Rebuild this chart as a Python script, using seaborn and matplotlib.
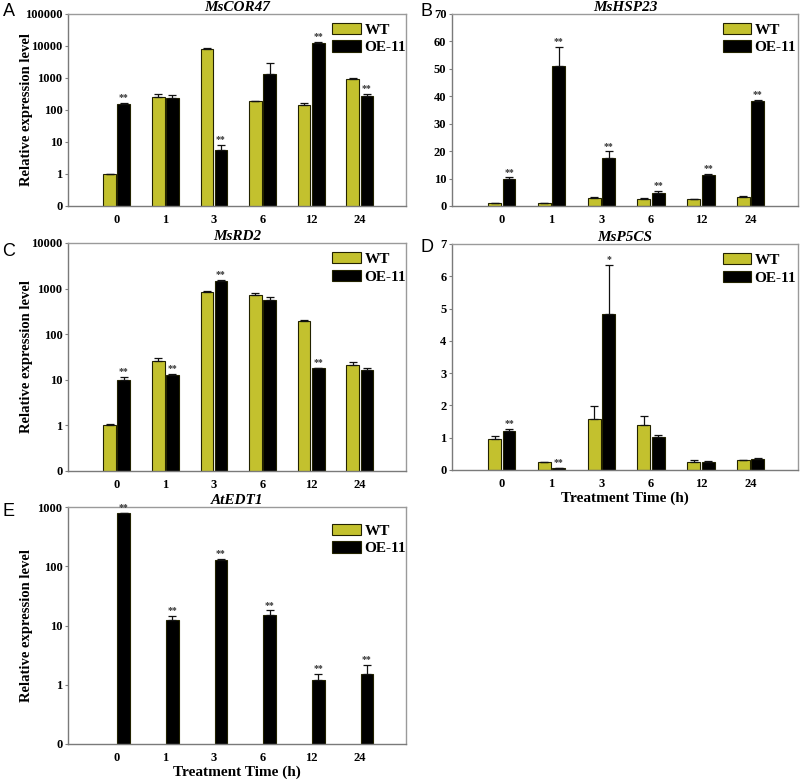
"""Relative expression of stress genes in WT and OE-11 lines over a treatment time course."""

import matplotlib.pyplot as plt
import numpy as np
import pandas as pd
import seaborn as sns

TIMES = ["0", "1", "3", "6", "12", "24"]
LINES = ["WT", "OE-11"]
WT_COLOR = "#C3C12E"
OE_COLOR = "#000000"

# MsCOR47 (log scale)
COR47_WT = [1.0, 250, 8100, 186, 140, 930]
COR47_WT_SD = [0.03, 70, 300, 4, 25, 60]
COR47_OE = [158, 237, 5.6, 1365, 12400, 280]
COR47_OE_SD = [7, 53, 2.4, 1535, 1100, 35]
COR47_SIG = ["**", "", "**", "", "**", "**"]

# MsHSP23 (linear)
HSP23_WT = [1.0, 1.0, 2.8, 2.7, 2.4, 3.3]
HSP23_WT_SD = [0.1, 0.2, 0.5, 0.2, 0.2, 0.2]
HSP23_OE = [9.8, 51.0, 17.5, 4.85, 11.3, 38.2]
HSP23_OE_SD = [0.6, 7.0, 2.4, 0.65, 0.3, 0.6]
HSP23_SIG = ["**", "**", "**", "**", "**", "**"]

# MsRD2 (log scale)
RD2_WT = [1.0, 26, 850, 710, 192, 21.3]
RD2_WT_SD = [0.07, 4, 20, 90, 13, 3.2]
RD2_OE = [10, 12.7, 1490, 570, 17.9, 16.4]
RD2_OE_SD = [1.8, 0.6, 60, 70, 0.5, 1.5]
RD2_SIG = ["**", "**", "**", "", "**", ""]

# MsP5CS (linear)
P5CS_WT = [0.95, 0.24, 1.58, 1.40, 0.24, 0.31]
P5CS_WT_SD = [0.11, 0.02, 0.41, 0.28, 0.07, 0.01]
P5CS_OE = [1.21, 0.06, 4.82, 1.01, 0.26, 0.33]
P5CS_OE_SD = [0.07, 0.01, 1.53, 0.08, 0.01, 0.05]
P5CS_SIG = ["**", "**", "*", "", "", ""]

# AtEDT1 (log scale), not expressed in WT
EDT1_WT = [np.nan] * 6
EDT1_WT_SD = [np.nan] * 6
EDT1_OE = [789, 12.3, 129, 15.0, 1.20, 1.49]
EDT1_OE_SD = [15, 2.3, 4, 3.1, 0.33, 0.69]
EDT1_SIG = ["**", "**", "**", "**", "**", "**"]

plt.rcParams["font.family"] = ["Liberation Serif", "DejaVu Serif"]
plt.rcParams["font.weight"] = "bold"

W, H = 800, 784


def rect(x0, y0, x1, y1):
    return [x0 / W, 1 - y1 / H, (x1 - x0) / W, (y1 - y0) / H]


def draw_panel(ax, title, wt, wt_sd, oe, oe_sd, sig, log, ymax, letter, letter_xy,
               legend_anchor, ylabel=False, xlabel=False):
    df = pd.DataFrame({
        "time": TIMES * 2,
        "line": [LINES[0]] * 6 + [LINES[1]] * 6,
        "value": list(wt) + list(oe),
    })
    sds = {LINES[0]: wt_sd, LINES[1]: oe_sd}
    vals = {LINES[0]: wt, LINES[1]: oe}

    sns.barplot(data=df, x="time", y="value", hue="line", hue_order=LINES, order=TIMES,
                palette=[WT_COLOR, OE_COLOR], saturation=1, errorbar=None, width=0.58, gap=0.1,
                edgecolor="#222200", linewidth=0.8, ax=ax)

    for container, line in zip(ax.containers, LINES):
        for patch in container.patches:
            cx = patch.get_x() + patch.get_width() / 2
            i = int(round(cx))
            v, sd = vals[line][i], sds[line][i]
            if np.isnan(v):
                continue
            ax.errorbar(cx, v, yerr=[[0], [sd]], fmt="none", ecolor="#111111",
                        elinewidth=0.9, capsize=3, capthick=0.9)
            if line == "OE-11" and sig[i]:
                ax.annotate(sig[i], (cx, v + sd), xytext=(0, 0.5), textcoords="offset points",
                            ha="center", va="bottom", fontsize=7, color="#333333")

    if log:
        ax.set_yscale("log")
        ax.set_ylim(0.1, ymax)
        ticks = [10.0 ** k for k in range(-1, int(np.log10(ymax)) + 1)]
        ax.set_yticks(ticks)
        ax.set_yticklabels(["0"] + [f"{t:.0f}" for t in ticks[1:]])
        ax.minorticks_off()
    else:
        ax.set_ylim(0, ymax)
        step = 10 if ymax > 10 else 1
        ax.set_yticks(np.arange(0, ymax + step / 2, step))
        ax.set_yticklabels([f"{t:.0f}" for t in np.arange(0, ymax + step / 2, step)])

    ax.set_xlim(-1, 5.95)
    ax.set_title(title, fontsize=11, fontstyle="italic", fontweight="bold", pad=0.5)
    ax.tick_params(axis="x", length=0, pad=6, labelsize=9)
    ax.tick_params(axis="y", length=2, pad=2, labelsize=9, color="#808080")
    for lab in ax.get_xticklabels() + ax.get_yticklabels():
        lab.set_fontweight("bold")
    for side, spine in ax.spines.items():
        spine.set_color("#7a7a7a" if side in ("left", "bottom") else "#9a9a9a")
        spine.set_linewidth(1.0)

    ax.set_ylabel("Relative expression level" if ylabel else "", fontsize=10.5, fontweight="bold")
    ax.yaxis.set_label_coords(-0.105, 0.5)
    ax.set_xlabel("Treatment Time (h)" if xlabel else "", fontsize=11, fontweight="bold", labelpad=1)

    handles, labels = ax.get_legend_handles_labels()
    ax.legend(handles, labels, loc="upper right", bbox_to_anchor=legend_anchor, frameon=False,
              prop={"family": "Liberation Serif", "weight": "bold", "size": 11},
              handlelength=1.85, handleheight=0.75, handletextpad=0.25, labelspacing=0.25,
              borderpad=0, borderaxespad=0)

    ax.figure.text(letter_xy[0] / W, 1 - letter_xy[1] / H, letter, fontsize=13,
                   family="Liberation Sans", fontweight="normal", ha="center", va="center")


fig = plt.figure(figsize=(8, 7.84), dpi=100)
ax_a = fig.add_axes(rect(68, 14, 406, 206))
ax_b = fig.add_axes(rect(452, 14, 798, 206))
ax_c = fig.add_axes(rect(68, 243, 406, 471))
ax_d = fig.add_axes(rect(452, 244, 798, 470))
ax_e = fig.add_axes(rect(68, 507, 406, 744))

draw_panel(ax_a, "MsCOR47", COR47_WT, COR47_WT_SD, COR47_OE, COR47_OE_SD, COR47_SIG,
           True, 1e5, "A", (9, 12), (1.0, 0.955), ylabel=True)
draw_panel(ax_b, "MsHSP23", HSP23_WT, HSP23_WT_SD, HSP23_OE, HSP23_OE_SD, HSP23_SIG,
           False, 70, "B", (427, 12), (0.995, 0.955))
draw_panel(ax_c, "MsRD2", RD2_WT, RD2_WT_SD, RD2_OE, RD2_OE_SD, RD2_SIG,
           True, 1e4, "C", (9, 251), (1.0, 0.96), ylabel=True)
draw_panel(ax_d, "MsP5CS", P5CS_WT, P5CS_WT_SD, P5CS_OE, P5CS_OE_SD, P5CS_SIG,
           False, 7, "D", (427, 247), (0.995, 0.96), xlabel=True)
draw_panel(ax_e, "AtEDT1", EDT1_WT, EDT1_WT_SD, EDT1_OE, EDT1_OE_SD, EDT1_SIG,
           True, 1000, "E", (8, 512), (1.0, 0.93), ylabel=True, xlabel=True)

fig.savefig("out.png", dpi=100)
